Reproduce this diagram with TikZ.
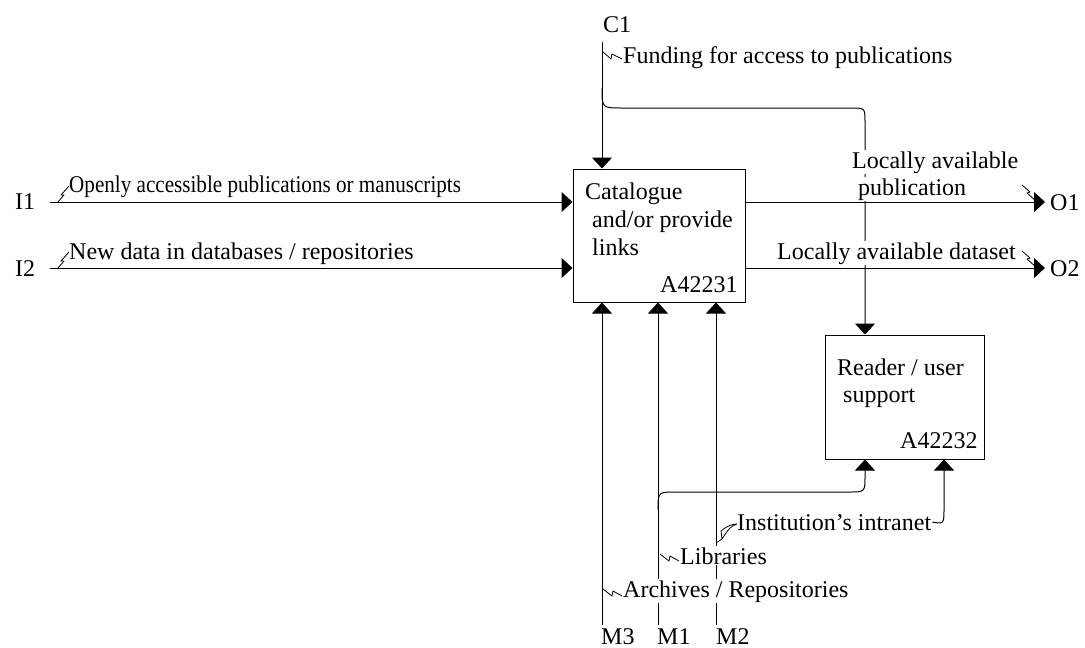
\documentclass[tikz,border=0pt]{standalone}
\usepackage{fontspec}
\setmainfont{Liberation Serif}
\usetikzlibrary{arrows.meta}
\tikzset{
  box/.style={draw, line width=1pt, inner sep=0pt},
  lbl/.style={font=\fontsize{24}{28}\selectfont, inner sep=0pt, anchor=base west},
  wlbl/.style={lbl, fill=white, inner xsep=1pt, inner ysep=1pt},
  conn/.style={line width=1pt},
  arr/.style={conn, -{Triangle[length=11pt,width=20pt]}},
  sq/.style={line width=0.8pt, line join=round},
}
\begin{document}
\begin{tikzpicture}[x=1pt,y=-1pt]
\useasboundingbox (0,0) rectangle (1085,648);

% boxes
\node[box, minimum width=172pt, minimum height=133pt] (A1) at (659,235.5) {};
\node[box, minimum width=159pt, minimum height=124pt] (A2) at (904.5,397) {};

% free ends
\coordinate (c1) at (602,42);
\coordinate (i1) at (50,202);
\coordinate (i2) at (50,268);
\coordinate (o1) at (1045,202);
\coordinate (o2) at (1045,268);
\coordinate (m3) at (602,625);
\coordinate (m1) at (658,625);
\coordinate (m2) at (716,625);
\coordinate (cb) at (602,88);
\coordinate (mb) at (658,510);
\coordinate (cx) at (865,0);
\coordinate (ix) at (944,0);

% control C1 and its branch
\draw[arr] (c1) -- (c1 |- A1.north);
\draw[arr] (cb) .. controls (602,108) .. (622,108) -- (851,108)
  .. controls (865,108) .. (865,122) -- (cx |- A2.north);

% mechanisms
\draw[arr] (m3) -- (m3 |- A1.south);
\draw[arr] (m1) -- (m1 |- A1.south);
\draw[arr] (m2) -- (m2 |- A1.south);
\draw[arr] (mb) .. controls (658,492) .. (676,492) -- (849,492)
  .. controls (865,492) .. (865,476) -- (cx |- A2.south);

% labels with white background (cover lines behind)
\node[wlbl] (lap1) at (851,168) {Locally available};
\node[wlbl] (lap2) at (857,195) {publication};
\node[wlbl] (lad) at (776,259) {Locally available dataset};
\node[wlbl] (lib) at (679,564) {Libraries};
\node[wlbl] (arc) at (622,597) {Archives / Repositories};
\node[wlbl] (intr) at (736,530) {Institution's intranet};

\draw[arr] (intr.east) .. controls (944,524) .. (944,508) -- (ix |- A2.south);

% inputs and outputs
\draw[arr] (i1) -- (i1 -| A1.west);
\draw[arr] (i2) -- (i2 -| A1.west);
\draw[arr] (o1 -| A1.east) -- (o1);
\draw[arr] (o2 -| A1.east) -- (o2);

% box texts
\node[lbl] (t11) at (585,199) {Catalogue};
\node[lbl] (t12) at (592,227) {and/or provide};
\node[lbl] (t13) at (592,255) {links};
\node[lbl] (t14) at (660,292) {A42231};
\node[lbl] (t21) at (837,375) {Reader / user};
\node[lbl] (t22) at (843,402) {support};
\node[lbl] (t23) at (900,448) {A42232};

% ICOM tags and arrow labels
\node[lbl] (C1) at (603,32) {C1};
\node[lbl] (I1) at (15,209) {I1};
\node[lbl] (I2) at (15,276) {I2};
\node[lbl] (O1) at (1050,210) {O1};
\node[lbl] (O2) at (1050,276) {O2};
\node[lbl] (M3) at (601,644) {M3};
\node[lbl] (M1) at (657,644) {M1};
\node[lbl] (M2) at (716,644) {M2};
\node[lbl] (fund) at (623,63) {Funding for access to publications};
\node[lbl] (open) at (69,192) {\scalebox{0.88}[1]{Openly accessible publications or manuscripts}};
\node[lbl] (newd) at (69,259) {New data in databases / repositories};

% squiggles
\draw[sq] (57,203) -- (64,195) -- (61,195) -- (69,186);
\draw[sq] (57,269) -- (64,261) -- (61,261) -- (69,252);
\draw[sq] (603,52) -- (611,59) -- (612,54) -- (622,59);
\draw[sq] (1022,185) -- (1030,192) -- (1027,193) -- (1036,201);
\draw[sq] (1022,251) -- (1030,258) -- (1027,259) -- (1036,267);
\draw[sq] (660,554) -- (669,561) -- (670,556) -- (679,561);
\draw[sq] (603,589) -- (612,596) -- (613,591) -- (622,596);
\draw[sq] (716,543) -- (722,539) -- (721,531) .. controls (727,526) and (732,524) .. (737,524)
  .. controls (730,527) .. (722,539);
\end{tikzpicture}
\end{document}
